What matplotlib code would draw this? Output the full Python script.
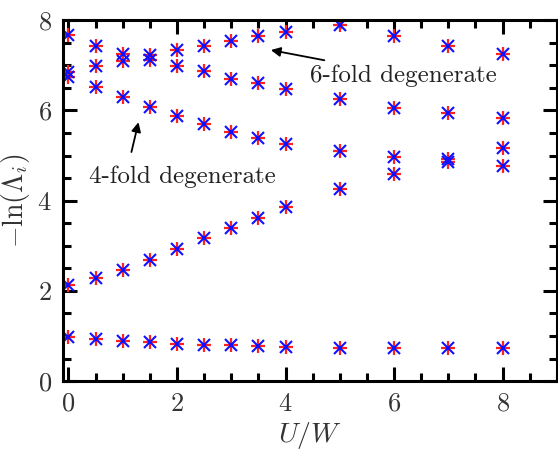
import numpy as np
import matplotlib
matplotlib.use("Agg")
import matplotlib.pyplot as plt
from matplotlib.ticker import MultipleLocator

# U/W values
u = [0, 0.5, 1, 1.5, 2, 2.5, 3, 3.5, 4, 5, 6, 7, 8]

# -ln(Lambda_i), five lowest levels
lev0 = [0.98, 0.93, 0.90, 0.86, 0.83, 0.80, 0.79, 0.77, 0.76, 0.74, 0.73, 0.73, 0.73]
lev1 = [2.13, 2.29, 2.47, 2.69, 2.93, 3.17, 3.40, 3.62, 3.86, 4.26, 4.59, 4.86, 4.77]
lev2 = [6.75, 6.51, 6.29, 6.07, 5.88, 5.69, 5.53, 5.39, 5.25, 5.10, 4.97, 4.92, 5.17]
lev3 = [6.86, 6.99, 7.10, 7.12, 6.99, 6.87, 6.70, 6.60, 6.47, 6.25, 6.05, 5.94, 5.84]
lev4 = [7.67, 7.43, 7.26, 7.23, 7.34, 7.43, 7.55, 7.65, 7.75, 7.89, 7.65, 7.43, 7.26]
levels = [lev0, lev1, lev2, lev3, lev4]

plt.rcParams['mathtext.fontset'] = 'cm'
plt.rcParams['font.family'] = 'serif'
plt.rcParams['font.serif'] = ['cmr10']
plt.rcParams['axes.formatter.use_mathtext'] = True

fig = plt.figure(figsize=(5.58, 4.51), dpi=100)
ax = fig.add_axes([0.113, 0.155, 0.885, 0.800])

for lev in levels:
    ax.plot(u, lev, ls='none', marker='+', color='#ff2020', ms=10, mew=1.6)
for lev in levels:
    ax.plot(u, lev, ls='none', marker='x', color='#1010ff', ms=9, mew=1.5)

ax.set_xlim(-0.1, 9)
ax.set_ylim(0, 8)
ax.xaxis.set_minor_locator(MultipleLocator(0.5))
ax.yaxis.set_minor_locator(MultipleLocator(0.5))
ax.set_xticks([0, 2, 4, 6, 8])
ax.set_xticklabels(['$0$', '$2$', '$4$', '$6$', '$8$'])
ax.set_yticks([0, 2, 4, 6, 8])
ax.set_yticklabels(['$0$', '$2$', '$4$', '$6$', '$8$'])

for s in ax.spines.values():
    s.set_linewidth(2.2)
ax.tick_params(which='both', direction='in', top=True, right=True, width=2.2,
               labelsize=19, colors='black')
ax.tick_params(which='major', length=10, pad=8)
ax.tick_params(which='minor', length=6)
for lab in ax.get_xticklabels() + ax.get_yticklabels():
    lab.set_color('#333333')

ax.set_xlabel('$U/W$', fontsize=20, color='#333333', labelpad=3)
ax.set_ylabel(r'$-\ln(\Lambda_i)$', fontsize=20, color='#333333', labelpad=4)

ax.annotate('6-fold degenerate', xy=(3.73, 7.34), xytext=(4.45, 6.78),
            fontsize=18, color='#222222', va='center', ha='left',
            arrowprops=dict(arrowstyle='-|>', color='black', lw=1.3,
                            shrinkA=4, shrinkB=0, mutation_scale=14))
ax.annotate('4-fold degenerate', xy=(1.29, 5.74), xytext=(0.37, 4.52),
            fontsize=18, color='#222222', va='center', ha='left')
ax.annotate('', xy=(1.29, 5.74), xytext=(1.16, 5.08),
            arrowprops=dict(arrowstyle='-|>', color='black', lw=1.3,
                            shrinkA=0, shrinkB=0, mutation_scale=14))

fig.savefig('out.png', dpi=100)
